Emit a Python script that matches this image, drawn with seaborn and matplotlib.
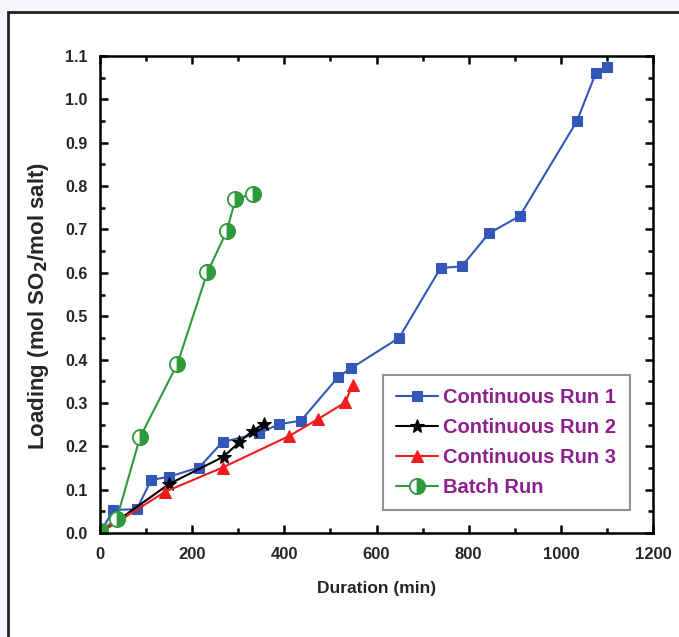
import matplotlib
matplotlib.use("Agg")
import matplotlib.pyplot as plt
import seaborn as sns
import pandas as pd
from matplotlib.patches import Rectangle
from matplotlib.ticker import MultipleLocator

# ---- data ----
run1_x = [0, 29, 80, 111, 150, 215, 266, 346, 388, 436, 517, 545, 649, 739, 785, 844, 911, 1035, 1076, 1100]
run1_y = [0.0, 0.053, 0.055, 0.122, 0.130, 0.151, 0.210, 0.230, 0.251, 0.259, 0.360, 0.380, 0.450, 0.611, 0.615, 0.691, 0.731, 0.950, 1.061, 1.075]

run2_x = [0, 150, 268, 302, 331, 355]
run2_y = [0.0, 0.113, 0.176, 0.209, 0.236, 0.251]

run3_x = [0, 141, 266, 411, 472, 532, 548]
run3_y = [0.0, 0.095, 0.151, 0.224, 0.262, 0.301, 0.341]

batch_x = [0, 36, 87, 168, 233, 275, 294, 331]
batch_y = [0.005, 0.032, 0.221, 0.390, 0.601, 0.696, 0.770, 0.782]

labels = ["Continuous Run 1", "Continuous Run 2", "Continuous Run 3", "Batch Run"]
x_ticks = [0, 200, 400, 600, 800, 1000, 1200]

sns.set_theme(style="white")
plt.rcParams["font.family"] = ["Liberation Sans", "DejaVu Sans"]

fig = plt.figure(figsize=(6.79, 6.37), dpi=100)
fig.patch.set_facecolor("#f4f6f9")
# outer frame of the picture
frame = Rectangle((8 / 679, -0.2), 1.5, (637 - 12) / 637 + 0.2,
                  transform=fig.transFigure, facecolor="white",
                  edgecolor="#222222", linewidth=2, zorder=-10)
fig.patches.append(frame)

ax = fig.add_axes([100 / 679, 1 - 533 / 637, 553 / 679, 477 / 637])
ax.set_zorder(5)
ax.set_facecolor("white")

blue = "#3357b8"
red = "#f01c1c"
green = "#2f9a3c"

df1 = pd.DataFrame({"x": run1_x, "y": run1_y})
df2 = pd.DataFrame({"x": run2_x, "y": run2_y})
df3 = pd.DataFrame({"x": run3_x, "y": run3_y})
df4 = pd.DataFrame({"x": batch_x, "y": batch_y})

sns.lineplot(data=df1, x="x", y="y", ax=ax, sort=False, color=blue, lw=1.5,
             marker="s", markersize=7, markeredgecolor=blue, label=labels[0])
sns.lineplot(data=df2, x="x", y="y", ax=ax, sort=False, color="black", lw=1.5,
             marker="*", markersize=10, markeredgecolor="black", label=labels[1])
sns.lineplot(data=df3, x="x", y="y", ax=ax, sort=False, color=red, lw=1.5,
             marker="^", markersize=8, markeredgecolor=red, label=labels[2])
sns.lineplot(data=df4, x="x", y="y", ax=ax, sort=False, color=green, lw=1.5,
             marker="o", markersize=11, markeredgecolor=green, markeredgewidth=1.3,
             fillstyle="right", markerfacecoloralt="white", label=labels[3])

ax.set_xlim(0, 1200)
ax.set_ylim(0, 1.1)
ax.set_xticks(x_ticks)
ax.xaxis.set_minor_locator(MultipleLocator(100))
ax.yaxis.set_major_locator(MultipleLocator(0.1))
ax.yaxis.set_minor_locator(MultipleLocator(0.05))
ax.yaxis.set_major_formatter(matplotlib.ticker.FormatStrFormatter("%.1f"))

ax.tick_params(which="both", direction="in", top=True, right=True,
               bottom=True, left=True, color="black", width=1.8)
ax.tick_params(which="major", length=6)
ax.tick_params(which="minor", length=3.5)
ax.tick_params(axis="x", which="major", labelsize=12, pad=10)
ax.tick_params(axis="y", which="major", labelsize=11.5, pad=9)
for lab in ax.get_xticklabels() + ax.get_yticklabels():
    lab.set_fontweight("bold")

for s in ax.spines.values():
    s.set_color("black")
    s.set_linewidth(1.8)

ax.set_xlabel("Duration (min)", fontsize=12.5, fontweight="bold", labelpad=14)
ax.set_ylabel("Loading (mol SO$_\\mathbf{2}$/mol salt)", fontsize=16,
              fontweight="bold")
ax.yaxis.set_label_coords(-0.088, 0.476)

leg = ax.legend(loc="upper left", bbox_to_anchor=(0.5118, 0.3312),
                borderaxespad=0, frameon=True, fancybox=False,
                handlelength=2.1, handletextpad=0.25, borderpad=0.65,
                labelspacing=0.55, prop={"weight": "bold", "size": 14.5})
leg.get_frame().set_edgecolor("#777777")
leg.get_frame().set_linewidth(1.5)
for t in leg.get_texts():
    t.set_color("#8e1f8e")

fig.savefig("out.png", dpi=100, facecolor=fig.get_facecolor())
